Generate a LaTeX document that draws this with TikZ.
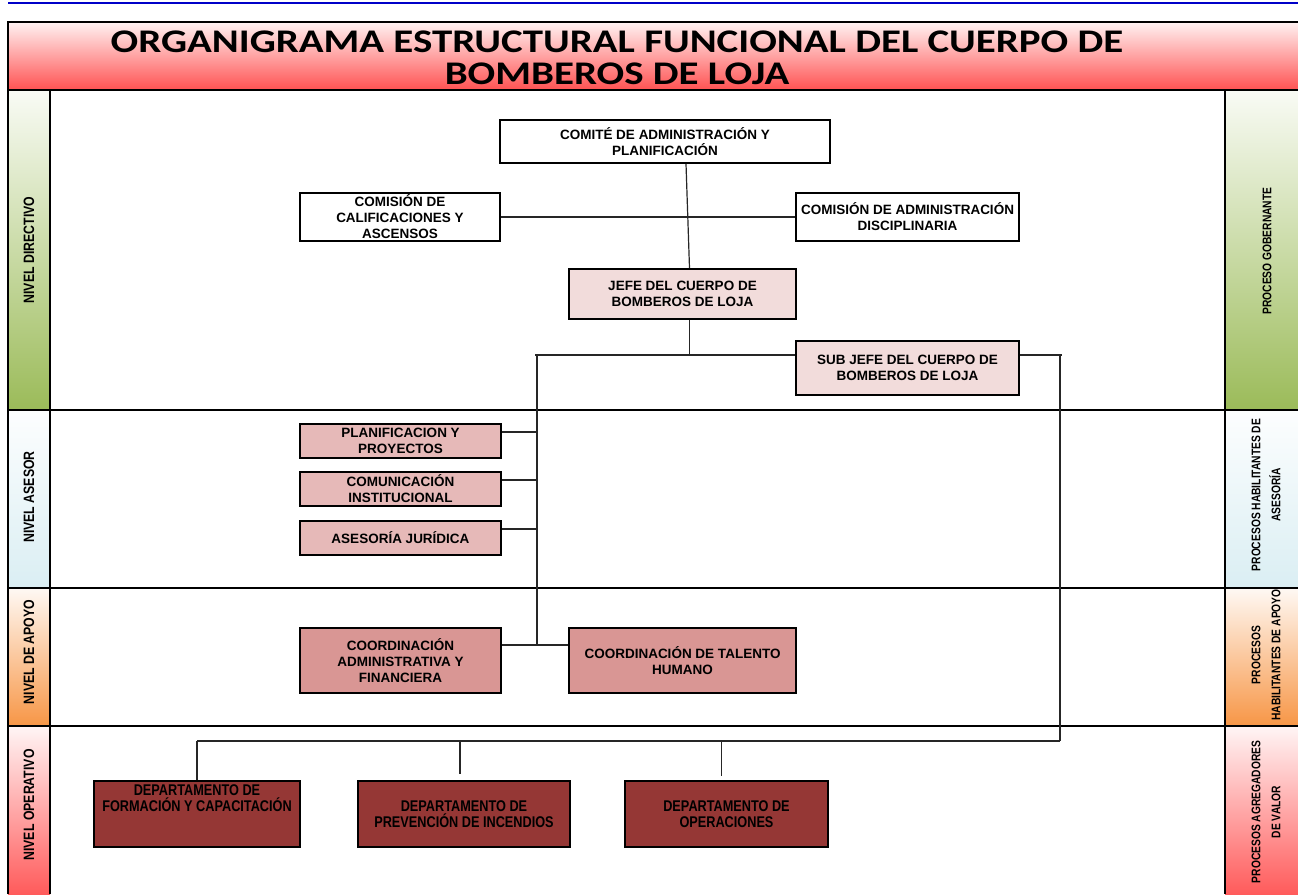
\documentclass[tikz,border=0pt]{standalone}
\usepackage{fontspec}
\setmainfont{Liberation Sans}
\newfontfamily\titelschrift[FakeStretch=1.24]{Carlito}
\newfontfamily\schmal[FakeStretch=0.82]{Liberation Sans}
\usepackage{tikz}

\definecolor{linieblau}{HTML}{0000C8}
\definecolor{titelhell}{HTML}{FFF2F2}
\definecolor{titelrot}{HTML}{FF5252}
\definecolor{gruen}{HTML}{9BBB59}
\definecolor{hellblau}{HTML}{DAEEF3}
\definecolor{orange}{HTML}{F79646}
\definecolor{rot}{HTML}{FF5B5B}
\definecolor{rosaA}{HTML}{F2DCDB}
\definecolor{rosaB}{HTML}{E6B9B8}
\definecolor{rosaC}{HTML}{D99694}
\definecolor{dunkelrot}{HTML}{953735}

\tikzset{
  kasten/.style={draw=black, line width=1.6pt, align=center, inner sep=0pt,
    font=\fontsize{13.5}{16}\selectfont\bfseries},
  dept/.style={kasten, fill=dunkelrot, font=\schmal\fontsize{15.5}{16}\selectfont\bfseries},
  gitter/.style={draw=black, line width=1.8pt},
  verbinder/.style={draw=black!85, line width=1.2pt},
  ebene/.style={rotate=90, align=center, font=\schmal\fontsize{15}{17}\selectfont\bfseries},
  prozess/.style={rotate=90, align=center, font=\schmal\fontsize{12.5}{20}\selectfont\bfseries}
}

\begin{document}
\begin{tikzpicture}[x=1pt,y=-1pt]
\useasboundingbox (0,0) rectangle (1298,894);

%linie oben
\draw[linieblau, line width=2pt] (8,3) -- (1298,3);

%titel
\shade[top color=titelhell, bottom color=titelrot] (8,22) rectangle (1298,90);
\node[align=center, font=\titelschrift\fontsize{33}{32}\selectfont\bfseries] (titel) at (617,58)
  {ORGANIGRAMA ESTRUCTURAL FUNCIONAL DEL CUERPO DE\\BOMBEROS DE LOJA};

%ebenen links und rechts
\foreach \oben/\unten/\farbe in {90/410/gruen, 410/588/hellblau, 588/726/orange, 726/894/rot}{
  \shade[top color=\farbe!6, bottom color=\farbe] (8,\oben) rectangle (50,\unten);
  \shade[top color=\farbe!6, bottom color=\farbe] (1225,\oben) rectangle (1298,\unten);
}

%gitter
\draw[gitter] (1298,22) -- (8,22) -- (8,894);
\draw[gitter] (8,90) -- (1298,90);
\foreach \y in {410,588,726}
  \draw[gitter] (8,\y) -- (1298,\y);
\draw[gitter] (50,90) -- (50,894);
\draw[gitter] (1225,90) -- (1225,894);

%beschriftung ebenen
\node[ebene] (nivdir) at (29,250) {NIVEL DIRECTIVO};
\node[ebene] (nivase) at (29,497) {NIVEL ASESOR};
\node[ebene] (nivapo) at (29,652) {NIVEL DE APOYO};
\node[ebene] (nivope) at (29,805) {NIVEL OPERATIVO};
\node[prozess] (progob) at (1267,251) {PROCESO GOBERNANTE};
\node[prozess] (proase) at (1266,495) {PROCESOS HABILITANTES DE\\ASESORÍA};
\node[prozess] (proapo) at (1266,655) {PROCESOS\\HABILITANTES DE APOYO};
\node[prozess] (proagr) at (1266,812) {PROCESOS AGREGADORES\\DE VALOR};

%kaesten directivo
\node[kasten, fill=white, minimum width=330, minimum height=43] (comite) at (665,141.5)
  {COMITÉ DE ADMINISTRACIÓN Y\\PLANIFICACIÓN};
\node[kasten, fill=white, minimum width=200, minimum height=48] (calif) at (400,217)
  {COMISIÓN DE\\CALIFICACIONES Y\\ASCENSOS};
\node[kasten, fill=white, minimum width=223, minimum height=48] (disc) at (907.5,217)
  {COMISIÓN DE ADMINISTRACIÓN\\DISCIPLINARIA};
\node[kasten, fill=rosaA, minimum width=227, minimum height=50] (jefe) at (682.5,294)
  {JEFE DEL CUERPO DE\\BOMBEROS DE LOJA};
\node[kasten, fill=rosaA, minimum width=223, minimum height=54] (subjefe) at (907.5,368)
  {SUB JEFE DEL CUERPO DE\\BOMBEROS DE LOJA};

%kaesten asesor
\node[kasten, fill=rosaB, minimum width=201, minimum height=34] (plan) at (400.5,441)
  {PLANIFICACION Y\\PROYECTOS};
\node[kasten, fill=rosaB, minimum width=201, minimum height=34] (comunic) at (400.5,489)
  {COMUNICACIÓN\\INSTITUCIONAL};
\node[kasten, fill=rosaB, minimum width=201, minimum height=34] (juridica) at (400.5,538)
  {ASESORÍA JURÍDICA};

%kaesten apoyo
\node[kasten, fill=rosaC, minimum width=201, minimum height=65] (coordadm) at (400.5,660.5)
  {COORDINACIÓN\\ADMINISTRATIVA Y\\FINANCIERA};
\node[kasten, fill=rosaC, minimum width=227, minimum height=65] (talento) at (682.5,660.5)
  {COORDINACIÓN DE TALENTO\\HUMANO};

%kaesten operativo
\node[dept, minimum width=206, minimum height=66] (formacion) at (197,814)
  {DEPARTAMENTO DE\\FORMACIÓN Y CAPACITACIÓN\\\mbox{}\\\mbox{}};
\node[dept, minimum width=212, minimum height=66] (prevencion) at (464,814)
  {DEPARTAMENTO DE\\PREVENCIÓN DE INCENDIOS};
\node[dept, minimum width=203, minimum height=66] (operaciones) at (726.5,814)
  {DEPARTAMENTO DE\\OPERACIONES};

%knoten
\coordinate (knotenL) at (537,355);
\coordinate (knotenR) at (1060,355);
\coordinate (knotenApoyo) at (537,645);
\coordinate (knotenU) at (1060,741);

%verbindungen
\draw[verbinder] ([xshift=21]comite.south) -- ([xshift=7]jefe.north);
\draw[verbinder] (calif.east) -- (disc.west);
\draw[verbinder] ([xshift=7]jefe.south) -- ([xshift=7]jefe.south |- knotenL);
\draw[verbinder] ([xshift=-2]knotenL) -- (subjefe.west |- knotenL);
\draw[verbinder] (subjefe.east |- knotenR) -- ([xshift=2]knotenR);
\draw[verbinder] (knotenL) -- (knotenApoyo);
\draw[verbinder] (knotenR) -- (knotenU);
\foreach \n in {plan,comunic,juridica}
  \draw[verbinder] ([yshift=9]\n.east) -- ([yshift=9]\n.east -| knotenL);
\draw[verbinder] (coordadm.east |- knotenApoyo) -- (talento.west |- knotenApoyo);
\draw[verbinder] (formacion.north |- knotenU) -- (knotenU);
\draw[verbinder] (formacion.north |- knotenU) -- (formacion.north);
\draw[verbinder] ([xshift=-4]prevencion.north |- knotenU) -- ([xshift=-4,yshift=6]prevencion.north);
\draw[verbinder] ([xshift=-5]operaciones.north |- knotenU) -- ([xshift=-5,yshift=4]operaciones.north);
\end{tikzpicture}
\end{document}
